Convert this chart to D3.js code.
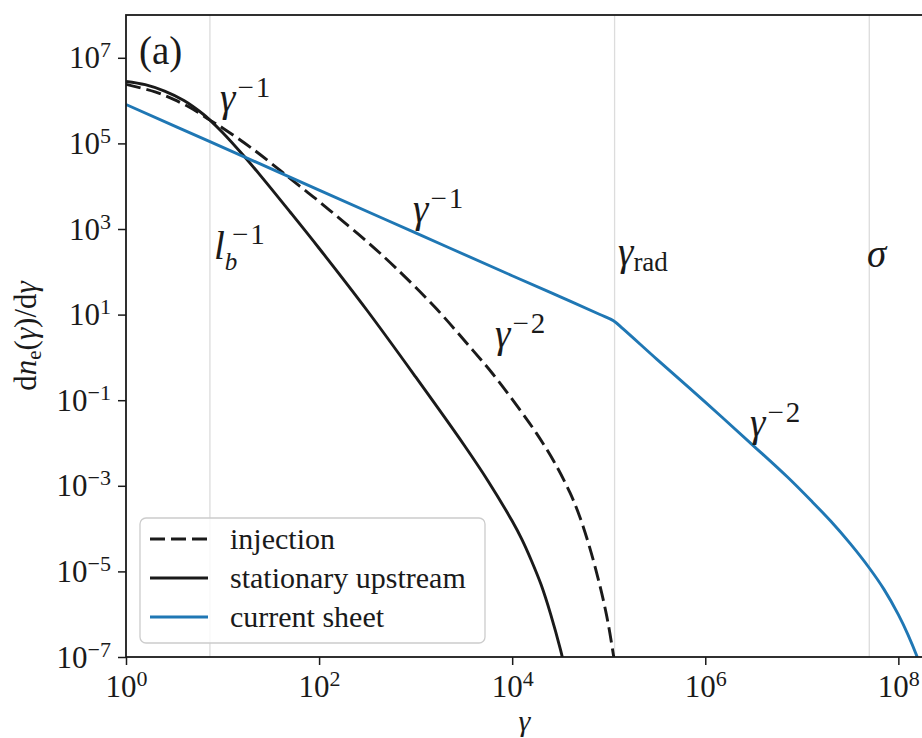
<!DOCTYPE html>
<html>
<head>
<meta charset="utf-8">
<script src="https://cdn.jsdelivr.net/npm/d3@7/dist/d3.min.js"></script>
<style>
  body { margin: 0; background: #fff; }
  svg { display: block; }
  svg text { font-family: 'Liberation Serif', 'DejaVu Serif', serif; }
</style>
</head>
<body>
<div id="root"></div>
<script>
// values (gamma, dn/dgamma)
const injectionGamma = [1, 2, 3.16, 5, 7.4, 10, 20.9, 39.8, 63, 100, 158, 316, 631, 1580, 3980, 6310, 1.2e4, 1.78e4, 2.69e4, 3.98e4, 5.01e4, 6.31e4, 7.94e4, 9.55e4, 1.12e5, 1.23e5]
const injectionN = [2.4e6, 1.6e6, 1.05e6, 6.2e5, 3.5e5, 2.3e5, 7.2e4, 2.3e4, 1.0e4, 4.4e3, 1.86e3, 500, 120, 15, 1.4, 0.41, 0.06, 0.017, 3.8e-3, 6.8e-4, 1.9e-4, 3.8e-5, 5.6e-6, 8.9e-7, 1.1e-7, 2.5e-8]

const upstreamGamma = [1, 1.58, 2.51, 3.98, 6.31, 7.4, 10, 15.8, 25.1, 50.1, 100, 316, 1000, 3160, 5620, 1e4, 1.26e4, 1.58e4, 2e4, 2.51e4, 3.16e4, 3.55e4]
const upstreamN = [2.8e6, 2.35e6, 1.66e6, 1.0e6, 4.8e5, 3.5e5, 1.8e5, 5.8e4, 1.7e4, 2.5e3, 355, 12.3, 0.35, 9.1e-3, 1.3e-3, 1.5e-4, 5.6e-5, 1.8e-5, 4.8e-6, 9.8e-7, 1.5e-7, 4.9e-8]

const sheetGamma = [1, 7.4, 100, 1000, 1e4, 3.16e4, 8e4, 1.12e5, 1.4e5, 3.16e5, 1e6, 3.16e6, 7.1e6, 1.26e7, 2e7, 3.16e7, 5e7, 7.1e7, 1e8, 1.26e8, 1.62e8, 1.82e8]
const sheetN = [8.1e5, 1.1e5, 8.1e3, 810, 81, 26, 10.2, 7.2, 4.7, 0.9, 0.09, 8.6e-3, 1.6e-3, 4.4e-4, 1.48e-4, 4.5e-5, 1.2e-5, 3.8e-6, 9.8e-7, 3.3e-7, 8.3e-8, 4e-8]

// characteristic energies (gray vertical lines)
const lbInverse = 7.4
const gammaRad = 1.15e5
const sigma = 5e7

const xTicks = [1e0, 1e2, 1e4, 1e6, 1e8]
const yTicks = [1e7, 1e5, 1e3, 1e1, 1e-1, 1e-3, 1e-5, 1e-7]
const xDomain = [1, 1.8e8]
const yDomain = [1e-7, 1e8]

const legendItems = ['injection', 'stationary upstream', 'current sheet']

const dimensions = {
  width: 922,
  height: 738,
  margin: { top: 15, right: -1, bottom: 81, left: 126 }
}
const BLUE = '#1f77b4'
const INK = '#1a1a1a'

const svg = d3.select('#root')
  .append('svg')
  .attr('width', dimensions.width)
  .attr('height', dimensions.height)

const x = d3.scaleLog()
  .domain(xDomain)
  .range([dimensions.margin.left, dimensions.width - dimensions.margin.right])
const y = d3.scaleLog()
  .domain(yDomain)
  .range([dimensions.height - dimensions.margin.bottom, dimensions.margin.top])

const plotTop = dimensions.margin.top
const plotBottom = dimensions.height - dimensions.margin.bottom
const plotLeft = dimensions.margin.left
const plotRight = dimensions.width - dimensions.margin.right

svg.append('clipPath').attr('id', 'plotClip')
  .append('rect')
  .attr('x', plotLeft).attr('y', plotTop)
  .attr('width', plotRight - plotLeft).attr('height', plotBottom - plotTop)

// gray reference lines
svg.append('g')
  .selectAll('line')
  .data([lbInverse, gammaRad, sigma])
  .join('line')
  .attr('x1', d => x(d)).attr('x2', d => x(d))
  .attr('y1', plotTop).attr('y2', plotBottom)
  .attr('stroke', '#dcdcdc')
  .attr('stroke-width', 1.3)

// curves
const line = d3.line()
  .x(d => x(d[0]))
  .y(d => y(d[1]))
  .curve(d3.curveCatmullRom.alpha(0.5))

const series = [
  { gamma: injectionGamma, n: injectionN, color: INK, dash: '15,6' },
  { gamma: upstreamGamma, n: upstreamN, color: INK, dash: null },
  { gamma: sheetGamma, n: sheetN, color: BLUE, dash: null }
]

svg.append('g')
  .attr('clip-path', 'url(#plotClip)')
  .selectAll('path')
  .data(series)
  .join('path')
  .attr('d', s => line(d3.zip(s.gamma, s.n)))
  .attr('fill', 'none')
  .attr('stroke', s => s.color)
  .attr('stroke-width', 2.9)
  .attr('stroke-dasharray', s => s.dash)

// power-of-ten labels with superscript exponent
function powerLabel (text, d) {
  const e = Math.round(Math.log10(d))
  text.text(null)
  text.append('tspan').text('10')
  text.append('tspan')
    .attr('font-size', 22)
    .attr('dy', -11)
    .text(e < 0 ? '\u2212' + (-e) : String(e))
}

const xAxisContainer = svg.append('g')
  .attr('transform', `translate(0, ${plotBottom})`)
  .call(d3.axisBottom(x).tickValues(xTicks).tickSize(8).tickSizeOuter(0).tickFormat(''))
xAxisContainer.select('.domain').remove()
xAxisContainer.attr('font-size', null).attr('font-family', null)
xAxisContainer.selectAll('.tick line').attr('stroke', INK).attr('stroke-width', 1.5)
xAxisContainer.selectAll('.tick text')
  .attr('y', 40).attr('dy', null)
  .attr('font-size', 31).attr('fill', INK)
  .each(function (d) { powerLabel(d3.select(this), d) })

const yAxisContainer = svg.append('g')
  .attr('transform', `translate(${plotLeft}, 0)`)
  .call(d3.axisLeft(y).tickValues(yTicks).tickSize(8).tickSizeOuter(0).tickFormat(''))
yAxisContainer.select('.domain').remove()
yAxisContainer.attr('font-size', null).attr('font-family', null)
yAxisContainer.selectAll('.tick line').attr('stroke', INK).attr('stroke-width', 1.5)
yAxisContainer.selectAll('.tick text')
  .attr('x', -15).attr('y', 10).attr('dy', null)
  .attr('font-size', 31).attr('fill', INK)
  .each(function (d) { powerLabel(d3.select(this), d) })

// frame (right spine falls just outside the window)
svg.append('rect')
  .attr('x', plotLeft).attr('y', plotTop)
  .attr('width', plotRight - plotLeft + 2).attr('height', plotBottom - plotTop)
  .attr('fill', 'none')
  .attr('stroke', INK)
  .attr('stroke-width', 1.8)

// axis titles
svg.append('text')
  .attr('x', (plotLeft + plotRight) / 2)
  .attr('y', 731)
  .attr('text-anchor', 'middle')
  .attr('font-size', 30)
  .attr('font-style', 'italic')
  .attr('fill', INK)
  .text('γ')

const yTitle = svg.append('text')
  .attr('transform', `translate(36, ${(plotTop + plotBottom) / 2}) rotate(-90)`)
  .attr('text-anchor', 'middle')
  .attr('font-size', 31)
  .attr('fill', INK)
yTitle.append('tspan').text('d')
yTitle.append('tspan').attr('font-style', 'italic').text('n')
yTitle.append('tspan').attr('font-size', 21).attr('dy', 5).text('e')
yTitle.append('tspan').attr('dy', -5).text('(')
yTitle.append('tspan').attr('font-style', 'italic').text('γ')
yTitle.append('tspan').text(')/d')
yTitle.append('tspan').attr('font-style', 'italic').text('γ')

// panel tag
svg.append('text')
  .attr('x', 139).attr('y', 64)
  .attr('font-size', 39)
  .attr('fill', INK)
  .text('(a)')

// annotations: base symbol, superscript, subscript
const annotations = [
  { x: 220, y: 111, base: 'γ', sup: '\u22121' },
  { x: 413, y: 222, base: 'γ', sup: '\u22121' },
  { x: 495, y: 347, base: 'γ', sup: '\u22122' },
  { x: 750, y: 436, base: 'γ', sup: '\u22122' },
  { x: 618, y: 265, base: 'γ', sub: 'rad' },
  { x: 867, y: 267, base: 'σ' },
  { x: 214, y: 259, base: 'l', sub: 'b', sup: '\u22121' }
]

annotations.forEach(a => {
  const t = svg.append('text')
    .attr('x', a.x).attr('y', a.y)
    .attr('font-size', 39)
    .attr('fill', INK)
  t.append('tspan').attr('font-style', 'italic').text(a.base)
  if (a.sub && a.sup) {
    t.append('tspan').attr('font-size', 25).attr('font-style', 'italic').attr('dy', 11).text(a.sub)
    t.append('tspan').attr('font-size', 29).attr('x', a.x + 18).attr('dy', -26).attr('letter-spacing', 2).text(a.sup)
  } else if (a.sub) {
    t.append('tspan').attr('font-size', 27).attr('dy', 6).text(a.sub)
  } else if (a.sup) {
    t.append('tspan').attr('font-size', 29).attr('dx', 2).attr('dy', -14).attr('letter-spacing', 2).text(a.sup)
  }
})

// legend
const legend = svg.append('g').attr('transform', 'translate(140, 518)')
legend.append('rect')
  .attr('width', 345).attr('height', 125)
  .attr('rx', 6)
  .attr('fill', 'white').attr('fill-opacity', 0.8)
  .attr('stroke', '#cccccc').attr('stroke-width', 1.3)

const legendRows = legend.selectAll('.row')
  .data(series)
  .join('g')
  .attr('class', 'row')
  .attr('transform', (d, i) => `translate(0, ${21 + i * 39})`)
legendRows.append('line')
  .attr('x1', 10).attr('x2', 68)
  .attr('stroke', s => s.color)
  .attr('stroke-width', 2.9)
  .attr('stroke-dasharray', s => s.dash)
legendRows.append('text')
  .attr('x', 90).attr('y', 10)
  .attr('font-size', 30)
  .attr('fill', INK)
  .text((d, i) => legendItems[i])
</script>
</body>
</html>
